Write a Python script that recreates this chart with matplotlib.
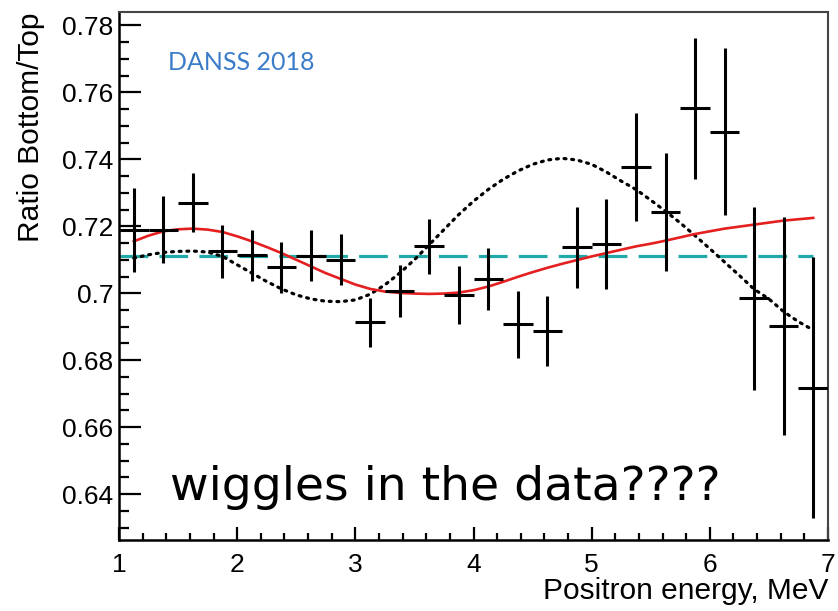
import matplotlib
matplotlib.use("Agg")
import matplotlib.pyplot as plt
from matplotlib.ticker import MultipleLocator, FuncFormatter

# Measured bottom/top ratio per positron-energy bin
energy = [1.125, 1.375, 1.625, 1.875, 2.125, 2.375, 2.625, 2.875,
          3.125, 3.375, 3.625, 3.875, 4.125, 4.375, 4.625, 4.875,
          5.125, 5.375, 5.625, 5.875, 6.125, 6.375, 6.625, 6.875]
ratio = [0.7188, 0.7190, 0.7270, 0.7125, 0.7113, 0.7077, 0.7112, 0.7100,
         0.6913, 0.7007, 0.7140, 0.6995, 0.7042, 0.6907, 0.6887, 0.7137,
         0.7147, 0.7377, 0.7243, 0.7552, 0.7483, 0.6985, 0.6903, 0.6718]
ratio_err = [0.0125, 0.0100, 0.0088, 0.0080, 0.0077, 0.0075, 0.0076, 0.0076,
             0.0074, 0.0077, 0.0083, 0.0087, 0.0093, 0.0099, 0.0105, 0.0122,
             0.0135, 0.0160, 0.0177, 0.0210, 0.0250, 0.0274, 0.0325, 0.0390]
bin_half_width = 0.125

# No-oscillation hypothesis (flat ratio)
flat_x = [1.0, 6.875]
flat_y = [0.711, 0.711]

# Best-fit oscillation curve
fit_x = [1.125, 1.25, 1.375, 1.5, 1.625, 1.75, 1.875, 2.0, 2.125, 2.25,
         2.375, 2.5, 2.625, 2.75, 2.875, 3.0, 3.125, 3.25, 3.375, 3.5,
         3.625, 3.75, 3.875, 4.0, 4.125, 4.25, 4.375, 4.5, 4.625, 4.75,
         4.875, 5.0, 5.125, 5.25, 5.375, 5.5, 5.625, 5.75, 5.875, 6.0,
         6.125, 6.25, 6.375, 6.5, 6.625, 6.75, 6.875]
fit_y = [0.7155, 0.7172, 0.7185, 0.7191, 0.7193, 0.7190, 0.7183, 0.7170,
         0.7155, 0.7138, 0.7120, 0.7100, 0.7080, 0.7060, 0.7043, 0.7026,
         0.7013, 0.7005, 0.7001, 0.6999, 0.6998, 0.6999, 0.7002, 0.7009,
         0.7020, 0.7034, 0.7049, 0.7063, 0.7076, 0.7088, 0.7099, 0.7110,
         0.7120, 0.7130, 0.7140, 0.7148, 0.7157, 0.7167, 0.7177, 0.7185,
         0.7193, 0.7199, 0.7205, 0.7211, 0.7217, 0.7221, 0.7225]

# Alternative oscillation hypothesis (dotted)
alt_x = fit_x
alt_y = [0.7105, 0.7115, 0.7122, 0.7125, 0.7126, 0.7123, 0.7110, 0.7085,
         0.7060, 0.7035, 0.7013, 0.6995, 0.6983, 0.6976, 0.6975, 0.6980,
         0.6997, 0.7025, 0.7060, 0.7100, 0.7145, 0.7190, 0.7235, 0.7275,
         0.7310, 0.7340, 0.7365, 0.7385, 0.7398, 0.7403, 0.7398, 0.7385,
         0.7362, 0.7335, 0.7310, 0.7278, 0.7245, 0.7210, 0.7172, 0.7133,
         0.7093, 0.7053, 0.7012, 0.6983, 0.6945, 0.6915, 0.6890]

x_ticks = [1, 2, 3, 4, 5, 6, 7]
y_ticks = [0.64, 0.66, 0.68, 0.70, 0.72, 0.74, 0.76, 0.78]

plt.rcParams['font.family'] = ['Liberation Sans', 'DejaVu Sans']

fig = plt.figure(figsize=(8.38, 6.11), dpi=100)
ax = fig.add_axes([119 / 838, 1 - 540 / 611, 709 / 838, 528 / 611])

ax.plot(flat_x, flat_y, color='#22a9a9', lw=2.3, dashes=(9, 3.5), zorder=2)
ax.plot(alt_x, alt_y, color='black', lw=2.3, linestyle=(0, (0.6, 1.8)),
        dash_capstyle='round', zorder=2)
ax.plot(fit_x, fit_y, color='#e41f1f', lw=1.9, zorder=3)
ax.errorbar(energy, ratio, yerr=ratio_err, xerr=bin_half_width,
            fmt='none', ecolor='black', elinewidth=2.2, capsize=0, zorder=4)

ax.set_xlim(1, 7)
ax.set_ylim(0.6263, 0.784)

ax.set_xticks(x_ticks)
ax.set_yticks(y_ticks)
ax.xaxis.set_minor_locator(MultipleLocator(0.2))
ax.yaxis.set_minor_locator(MultipleLocator(0.005))
ax.yaxis.set_major_formatter(FuncFormatter(lambda v, p: f"{v:.2f}".rstrip('0')))

ax.tick_params(axis='both', which='both', direction='in', top=False, right=False,
               width=1.6, labelsize=19, colors='black')
ax.tick_params(axis='y', which='major', length=15.5, pad=4)
ax.tick_params(axis='y', which='minor', length=7.5)
ax.tick_params(axis='x', which='major', length=9.5, pad=9)
ax.tick_params(axis='x', which='minor', length=5)

for side in ('left', 'bottom'):
    ax.spines[side].set_linewidth(1.8)
for side in ('top', 'right'):
    ax.spines[side].set_linewidth(1.5)
    ax.spines[side].set_color('#444444')

ax.set_ylabel('Ratio Bottom/Top', fontsize=21.5, loc='top')
ax.yaxis.set_label_coords(-0.104, 1.0)
ax.set_xlabel('Positron energy, MeV', fontsize=21.5, loc='right')
ax.xaxis.label.set_va('baseline')
ax.xaxis.set_label_coords(1.0, -0.1117)

ax.text(0.069, 0.890, 'DANSS 2018', transform=ax.transAxes, fontsize=18,
        family='Lato', color='#3b7cc9', va='baseline', ha='left')
ax.text(0.0719, 0.0758, 'wiggles in the data????', transform=ax.transAxes,
        fontsize=34, family='DejaVu Sans', color='black', va='baseline', ha='left')

fig.savefig('out.png', dpi=100)
